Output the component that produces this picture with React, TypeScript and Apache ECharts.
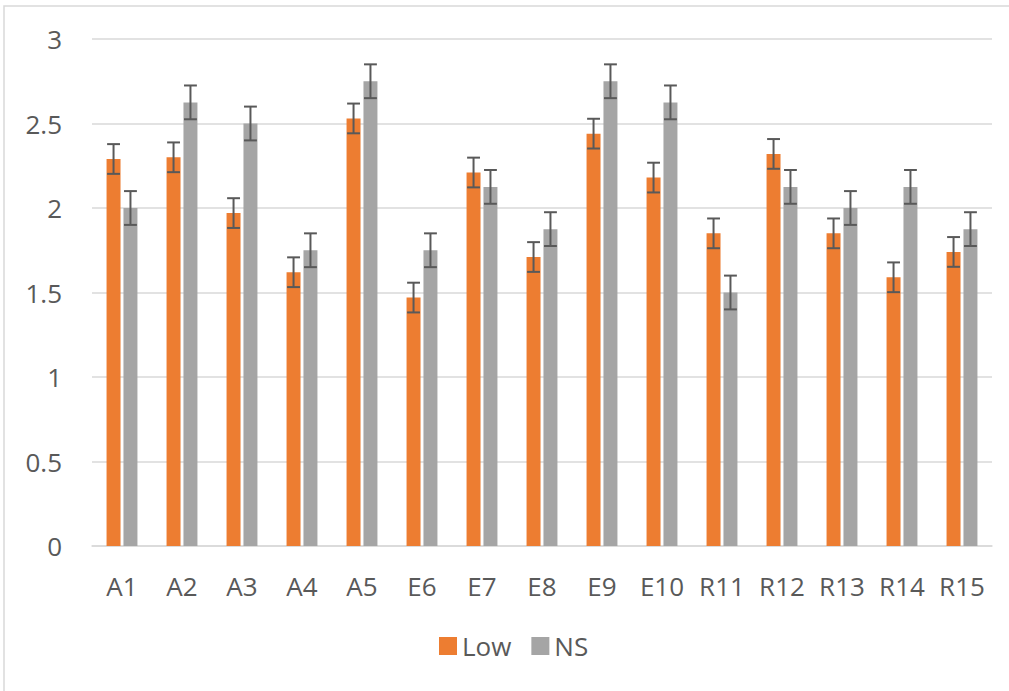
import React, { useEffect, useRef } from "react";
import * as echarts from "echarts";

const categories = ["A1", "A2", "A3", "A4", "A5", "E6", "E7", "E8", "E9", "E10", "R11", "R12", "R13", "R14", "R15"];
const lowValues = [2.29, 2.30, 1.97, 1.62, 2.53, 1.47, 2.21, 1.71, 2.44, 2.18, 1.85, 2.32, 1.85, 1.59, 1.74];
const nsValues = [2.0, 2.625, 2.5, 1.75, 2.75, 1.75, 2.125, 1.875, 2.75, 2.625, 1.5, 2.125, 2.0, 2.125, 1.875];
const lowErrors = [0.088, 0.088, 0.088, 0.088, 0.088, 0.088, 0.088, 0.088, 0.088, 0.088, 0.088, 0.088, 0.088, 0.088, 0.088];
const nsErrors = [0.1, 0.1, 0.1, 0.1, 0.1, 0.1, 0.1, 0.1, 0.1, 0.1, 0.1, 0.1, 0.1, 0.1, 0.1];
const yTicks = { min: 0, max: 3, interval: 0.5 };

const FONT = "'Open Sans', sans-serif";
const TEXT = "#595959";
const BAR_W = 0.233;
const GAP = 0.21;

function errorSeries(name: string, values: number[], errs: number[], side: number) {
  return {
    name: name + " error",
    type: "custom",
    z: 5,
    silent: true,
    data: values.map((v, i) => [i, v, errs[i]]),
    encode: { x: 0, y: 1 },
    renderItem: (params: any, api: any) => {
      const x = api.value(0);
      const v = api.value(1);
      const e = api.value(2);
      const band = api.size([1, 0])[0];
      const bw = band * BAR_W;
      const off = side * (bw + bw * GAP) / 2;
      const top = api.coord([x, v + e]);
      const bot = api.coord([x, v - e]);
      const cx = top[0] + off;
      const cap = bw * 0.46;
      const style = { stroke: "#595959", lineWidth: 2 };
      return {
        type: "group",
        children: [
          { type: "line", shape: { x1: cx, y1: top[1], x2: cx, y2: bot[1] }, style },
          { type: "line", shape: { x1: cx - cap, y1: top[1], x2: cx + cap, y2: top[1] }, style },
          { type: "line", shape: { x1: cx - cap, y1: bot[1], x2: cx + cap, y2: bot[1] }, style },
        ],
      };
    },
  };
}

export default function App() {
  const ref = useRef<HTMLDivElement>(null);
  useEffect(() => {
    if (!ref.current) return;
    const chart = echarts.init(ref.current, undefined, { renderer: "svg" });
    chart.setOption({
      animation: false,
      backgroundColor: "#ffffff",
      textStyle: { fontFamily: FONT },
      graphic: [
        {
          type: "rect",
          shape: { x: 4, y: 6, width: 1200, height: 900 },
          style: { fill: "none", stroke: "#d9d9d9", lineWidth: 1.5 },
          silent: true,
          z: -1,
        },
      ],
      grid: { left: 92, right: 17, top: 39, bottom: 145, containLabel: false },
      legend: {
        data: ["Low", "NS"],
        left: 434,
        top: 628,
        icon: "rect",
        itemWidth: 18,
        itemHeight: 18,
        itemGap: 20,
        textStyle: { fontFamily: FONT, fontSize: 26, color: TEXT },
      },
      xAxis: {
        type: "category",
        data: categories,
        axisLine: { show: true, lineStyle: { color: "#d9d9d9", width: 1.5 } },
        axisTick: { show: false },
        axisLabel: { fontFamily: FONT, fontSize: 26, color: TEXT, margin: 27 },
      },
      yAxis: {
        type: "value",
        min: yTicks.min,
        max: yTicks.max,
        interval: yTicks.interval,
        axisLine: { show: false },
        axisTick: { show: false },
        axisLabel: { fontFamily: FONT, fontSize: 26, color: TEXT, margin: 30 },
        splitLine: { lineStyle: { color: "#d9d9d9", width: 1.5 } },
      },
      series: [
        {
          name: "Low",
          type: "bar",
          data: lowValues,
          barWidth: (BAR_W * 100) + "%",
          barGap: (GAP * 100) + "%",
          itemStyle: { color: "#ED7D31" },
        },
        {
          name: "NS",
          type: "bar",
          data: nsValues,
          barWidth: (BAR_W * 100) + "%",
          barGap: (GAP * 100) + "%",
          itemStyle: { color: "#A5A5A5" },
        },
        errorSeries("Low", lowValues, lowErrors, -1),
        errorSeries("NS", nsValues, nsErrors, 1),
      ],
    });
    return () => chart.dispose();
  }, []);
  return (
    <div
      ref={ref}
      style={{ position: "absolute", left: 0, top: 0, width: 1009, height: 691 }}
    />
  );
}
